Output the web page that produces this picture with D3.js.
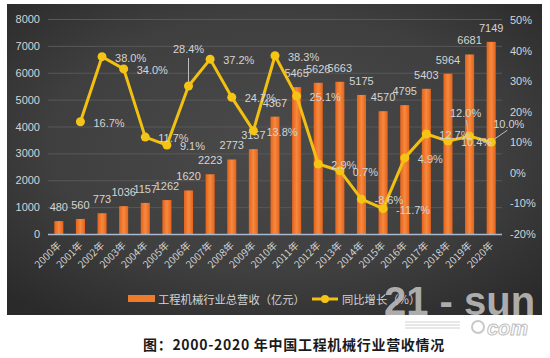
<!DOCTYPE html>
<html><head><meta charset="utf-8">
<script src="https://cdn.jsdelivr.net/npm/d3@7"></script>
<style>
html,body{margin:0;padding:0;background:#fff;}
svg{display:block;}
text{font-family:"Liberation Sans",Arial,sans-serif;}
.cjk{font-family:"Noto Sans CJK SC","Liberation Sans",sans-serif;}
</style></head>
<body>
<svg id="c" width="550" height="358"></svg>
<script>
const years = ["2000年","2001年","2002年","2003年","2004年","2005年","2006年","2007年","2008年","2009年","2010年","2011年","2012年","2013年","2014年","2015年","2016年","2017年","2018年","2019年","2020年"];
const revenue = [480,560,773,1036,1157,1262,1620,2223,2773,3157,4367,5465,5626,5663,5175,4570,4795,5403,5964,6681,7149];
const growth = [null,16.7,38.0,34.0,11.7,9.1,28.4,37.2,24.7,13.8,38.3,25.1,2.9,0.7,-8.6,-11.7,4.9,12.7,10.4,12.0,10.0];
const leftTicks = [0,1000,2000,3000,4000,5000,6000,7000,8000];
const rightTicks = [-20,-10,0,10,20,30,40,50];
const legendLabels = ["工程机械行业总营收（亿元）","同比增长（%）"];
const caption = "图：2000-2020 年中国工程机械行业营收情况";

const svg = d3.select("#c");
const defs = svg.append("defs");
const rg = defs.append("radialGradient").attr("id","bg").attr("cx","50%").attr("cy","45%").attr("r","70%");
rg.append("stop").attr("offset","0%").attr("stop-color","#4a4a4a");
rg.append("stop").attr("offset","60%").attr("stop-color","#3f3f3f");
rg.append("stop").attr("offset","100%").attr("stop-color","#2a2a2a");
const bg = defs.append("linearGradient").attr("id","bar").attr("x1","0").attr("x2","1").attr("y1","0").attr("y2","0");
bg.append("stop").attr("offset","0%").attr("stop-color","#e4621c");
bg.append("stop").attr("offset","50%").attr("stop-color","#f68a3e");
bg.append("stop").attr("offset","100%").attr("stop-color","#e4621c");

// panel
svg.append("rect").attr("x",7).attr("y",4).attr("width",535).attr("height",311).attr("fill","url(#bg)");

const x = d3.scaleBand().domain(years).range([48,502]).paddingInner(0.58).paddingOuter(0.29);
const yL = d3.scaleLinear().domain([0,8000]).range([234,19]);
const yR = d3.scaleLinear().domain([-20,50]).range([234,20]);
const cx = d => x(d) + x.bandwidth()/2;

// grid
svg.append("g").selectAll("line").data(leftTicks.filter(d=>d>0)).join("line")
  .attr("x1",48).attr("x2",502).attr("y1",d=>yL(d)+0.5).attr("y2",d=>yL(d)+0.5)
  .attr("stroke","#585858").attr("stroke-width",1);

// left axis
const axL = svg.append("g").attr("transform","translate(48,0)")
  .call(d3.axisLeft(yL).tickValues(leftTicks).tickSize(0).tickPadding(8).tickFormat(d3.format("d")));
axL.select(".domain").remove();
axL.selectAll("text").attr("fill","#d4d4d4").attr("font-size","11px").attr("font-family","Liberation Sans, Arial, sans-serif");

// right axis
const axR = svg.append("g").attr("transform","translate(502,0)")
  .call(d3.axisRight(yR).tickValues(rightTicks).tickSize(0).tickPadding(8).tickFormat(d=>d+"%"));
axR.select(".domain").remove();
axR.selectAll("text").attr("fill","#d4d4d4").attr("font-size","11px").attr("font-family","Liberation Sans, Arial, sans-serif");

// bars
svg.append("g").selectAll("rect").data(revenue).join("rect")
  .attr("x",(d,i)=>x(years[i])).attr("width",x.bandwidth())
  .attr("y",d=>yL(d)).attr("height",d=>yL(0)-yL(d)).attr("fill","url(#bar)");

// zero line
svg.append("line").attr("x1",48).attr("x2",502).attr("y1",yL(0)+0.5).attr("y2",yL(0)+0.5)
  .attr("stroke","#a9b8cc").attr("stroke-width",1.5);

// bar labels
svg.append("g").selectAll("text").data(revenue).join("text")
  .attr("x",(d,i)=>cx(years[i])).attr("y",d=>yL(d)-10)
  .attr("text-anchor","middle").attr("fill","#d4d4d4").attr("font-size","11px").text(d=>d);

// x labels
svg.append("g").selectAll("text").data(years).join("text")
  .attr("class","cjk")
  .attr("transform",d=>`translate(${cx(d)+3},${246}) rotate(-45)`)
  .attr("text-anchor","end").attr("fill","#d4d4d4").attr("font-size","10px").text(d=>d);

// line
const pts = growth.map((g,i)=>({g,i})).filter(d=>d.g!==null);
const lineGen = d3.line().x(d=>cx(years[d.i])).y(d=>yR(d.g));
svg.append("path").datum(pts).attr("d",lineGen).attr("fill","none")
  .attr("stroke","#f2c011").attr("stroke-width",3).attr("stroke-linejoin","round");

// leader lines
const special = {
  6:{dx:0,dy:-33,anchor:"middle",lead:[[0,-4],[0,-28]]},
  19:{dx:-4,dy:-19,anchor:"middle",lead:[[-2,-6],[-3,-16]]},
  20:{dx:2,dy:-14,anchor:"start",lead:[[3,-3],[16,-12]]}
};
Object.keys(special).forEach(k=>{
  const s = special[k], i=+k;
  const px=cx(years[i]), py=yR(growth[i]);
  svg.append("line").attr("x1",px+s.lead[0][0]).attr("y1",py+s.lead[0][1])
    .attr("x2",px+s.lead[1][0]).attr("y2",py+s.lead[1][1]).attr("stroke","#bfbfbf").attr("stroke-width",1);
});

svg.append("g").selectAll("circle").data(pts).join("circle")
  .attr("cx",d=>cx(years[d.i])).attr("cy",d=>yR(d.g)).attr("r",4.5).attr("fill","#f5c414");

// pct labels
svg.append("g").selectAll("text").data(pts).join("text")
  .attr("x",d=>{const s=special[d.i]; return cx(years[d.i]) + (s? s.dx : 13);})
  .attr("y",d=>{const s=special[d.i]; return yR(d.g) + (s? s.dy : 5);})
  .attr("text-anchor",d=>special[d.i]?special[d.i].anchor:"start")
  .attr("fill","#d4d4d4").attr("font-size","11px").text(d=>d.g.toFixed(1)+"%");

// legend
svg.append("rect").attr("x",128).attr("y",295).attr("width",27).attr("height",7).attr("fill","#f07a2c");
svg.append("text").attr("class","cjk").attr("x",158).attr("y",303.5).attr("fill","#d4d4d4").attr("font-size","11.3px").text(legendLabels[0]);
svg.append("line").attr("x1",312).attr("x2",338).attr("y1",299).attr("y2",299).attr("stroke","#f2c011").attr("stroke-width",3);
svg.append("circle").attr("cx",325).attr("cy",299).attr("r",4).attr("fill","#f5c414");
svg.append("text").attr("class","cjk").attr("x",342).attr("y",303.5).attr("fill","#d4d4d4").attr("font-size","11.3px").text(legendLabels[1]);

// watermark
svg.append("text").attr("x",384).attr("y",315).attr("font-size","40px").attr("font-weight","bold")
  .attr("fill","#b5b5b5").attr("fill-opacity",0.95).text("21 - sun");
svg.append("g").selectAll("line").data([322,325,328]).join("line")
  .attr("x1",405).attr("x2",460).attr("y1",d=>d).attr("y2",d=>d).attr("stroke","#d0d0d0").attr("stroke-width",1);
svg.append("circle").attr("cx",478).attr("cy",327).attr("r",6).attr("fill","#fff").attr("stroke","#c8c8c8").attr("stroke-width",2);
svg.append("text").attr("x",487).attr("y",335).attr("font-size","20px").attr("font-style","italic").attr("font-weight","bold")
  .attr("fill","#ffffff").attr("stroke","#c0c0c0").attr("stroke-width",1).text("com");

// caption
svg.append("text").attr("class","cjk").attr("x",143).attr("y",350).attr("font-size","14px").attr("font-weight","bold")
  .attr("letter-spacing","0.7px").attr("fill","#1a1a1a").text(caption);
</script>
</body></html>
